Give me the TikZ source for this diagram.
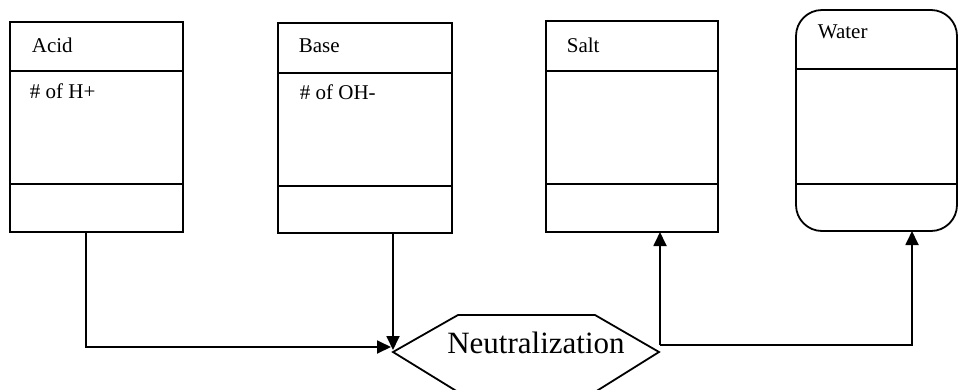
\documentclass[tikz,border=0pt]{standalone}
\usepackage{fontspec}
\setmainfont{Liberation Serif}
\usetikzlibrary{arrows.meta}
\begin{document}
\begin{tikzpicture}[x=1pt,y=-1pt,line width=1.8pt,
  box/.style={draw,rectangle,inner sep=0pt,outer sep=0pt,anchor=north west},
  lbl/.style={font=\fontsize{21}{24}\selectfont,anchor=base west,inner sep=0pt},
  big/.style={font=\fontsize{31}{36}\selectfont,anchor=base,inner sep=0pt},
  arr/.style={-{Triangle[length=14pt,width=13pt]}}]
\useasboundingbox (0,0) rectangle (959,389);
\clip (0,0) rectangle (959,389);
% boxes
\node[box,minimum width=173pt,minimum height=210pt] (acid) at (10,22) {};
\node[box,minimum width=174pt,minimum height=210pt] (base) at (278,23) {};
\node[box,minimum width=172pt,minimum height=211pt] (salt) at (546,21) {};
\node[box,minimum width=161pt,minimum height=221pt,rounded corners=26pt] (water) at (796,10) {};
% dividers
\draw (acid.west |- 0,71) -- (acid.east |- 0,71);
\draw (acid.west |- 0,184) -- (acid.east |- 0,184);
\draw (base.west |- 0,73) -- (base.east |- 0,73);
\draw (base.west |- 0,186) -- (base.east |- 0,186);
\draw (salt.west |- 0,71) -- (salt.east |- 0,71);
\draw (salt.west |- 0,184) -- (salt.east |- 0,184);
\draw (water.west |- 0,69) -- (water.east |- 0,69);
\draw (water.west |- 0,184) -- (water.east |- 0,184);
% labels
\node[lbl] (acidT) at (31,52) {Acid};
\node[lbl] (acidH) at (29,98) {\# of H+};
\node[lbl] (baseT) at (298,52) {Base};
\node[lbl] (baseO) at (299,99) {\# of OH-};
\node[lbl] (saltT) at (566,52) {Salt};
\node[lbl] (waterT) at (817,38) {Water};
% hexagon
\coordinate (hexL) at (393,352);
\coordinate (hexTL) at (458,315);
\coordinate (hexTR) at (595,315);
\coordinate (hexR) at (659,352);
\coordinate (hexBR) at (595,392);
\coordinate (hexBL) at (458,392);
\draw[line join=miter] (hexL) -- (hexTL) -- (hexTR) -- (hexR) -- (hexBR) -- (hexBL) -- cycle;
\node[big] (neut) at (536,353) {Neutralization};
% connectors
\coordinate (aOut) at (86,232);
\coordinate (aCorner) at (86,347);
\coordinate (aIn) at (391,347);
\coordinate (bOut) at (393,233);
\coordinate (bIn) at (393,350);
\coordinate (rJoin) at (660,345);
\coordinate (sIn) at (660,232);
\coordinate (wCorner) at (912,345);
\coordinate (wIn) at (912,231);
\draw[arr] (aOut) -- (aCorner) -- (aIn);
\draw[arr] (bOut) -- (bIn);
\draw[arr] (rJoin) -- (sIn);
\draw[arr] (rJoin) -- (wCorner) -- (wIn);
\end{tikzpicture}
\end{document}
